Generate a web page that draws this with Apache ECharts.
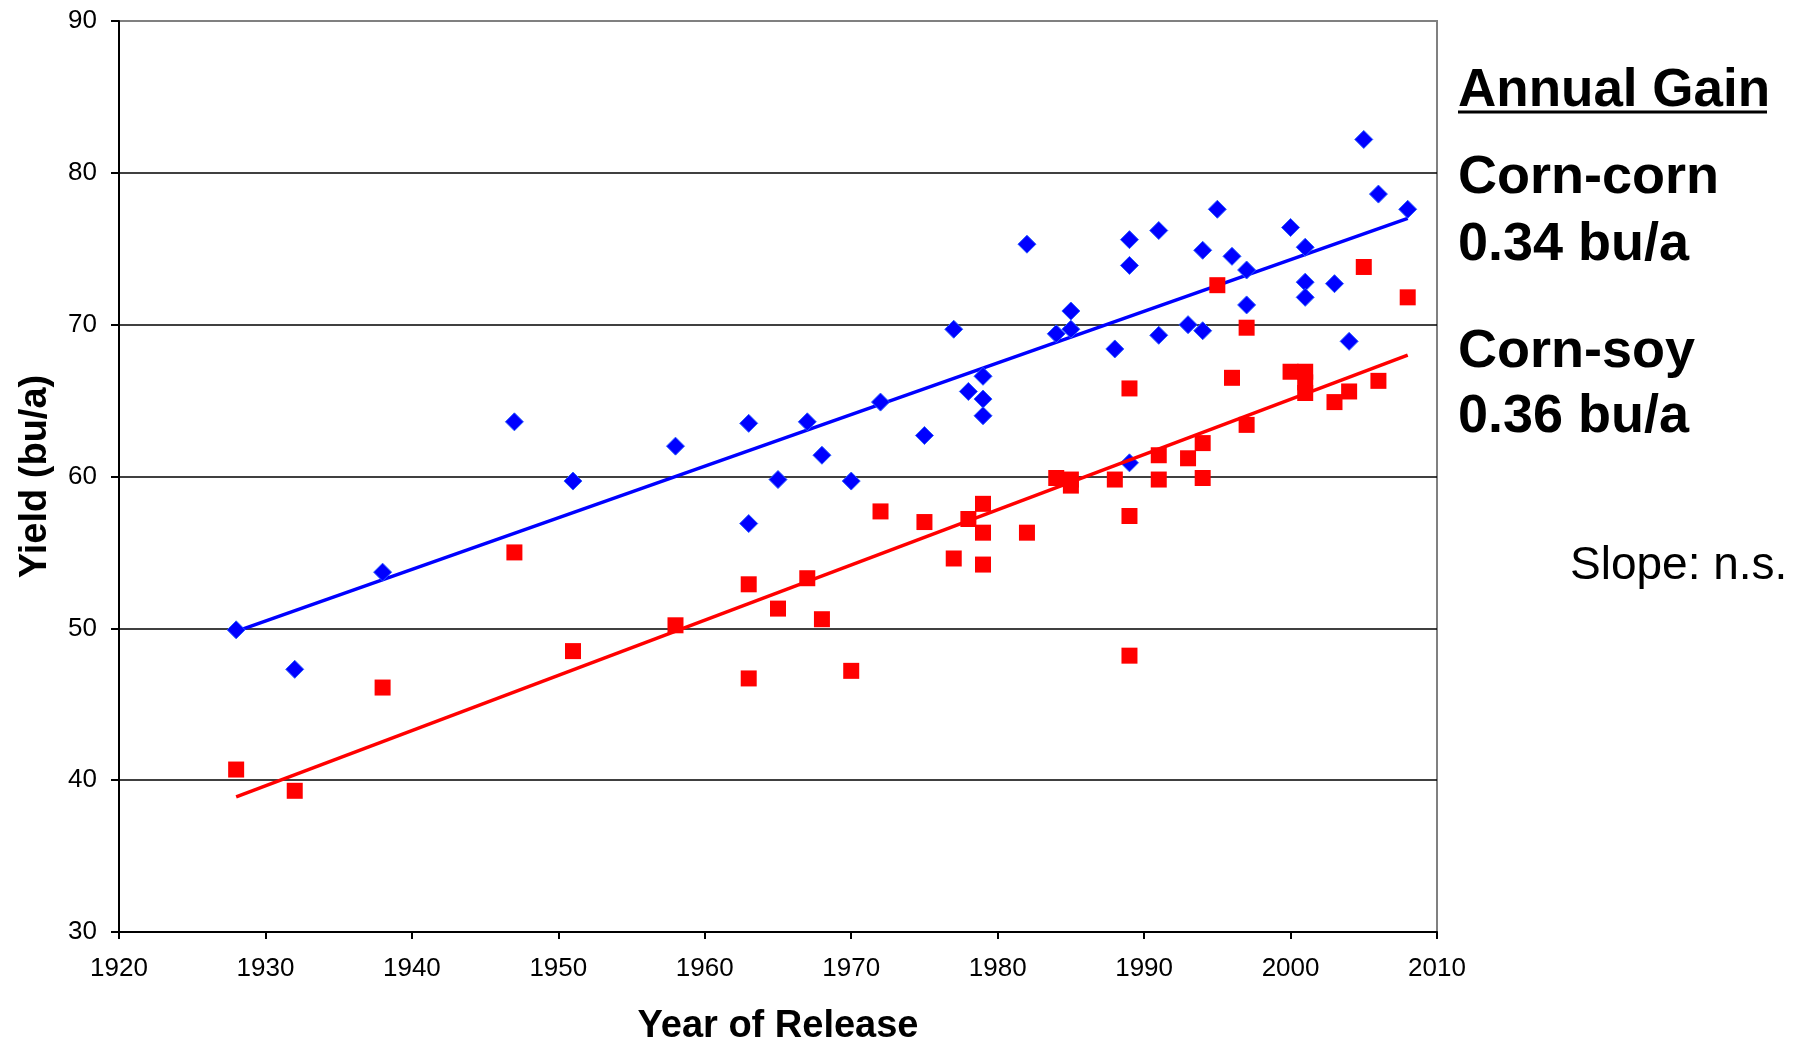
<!DOCTYPE html>
<html lang="en" style="height: 100%">

<head>
  <meta charset="utf-8">
  <style>
    html,body {
      margin: 0;
      padding: 0;
      width: 100%;
      height: 100%;
      overflow: hidden;
      background: #ffffff;
    }
  </style>
</head>

<body>
  <div id="container" style="height: 1040px;width: 1810px;"></div>

  <script type="text/javascript" src="https://cdn.jsdelivr.net/npm/echarts@6/dist/echarts.min.js"></script>
  <script type="text/javascript">
    // corn-corn (blue diamonds)
    let ccYears = [1928, 1932, 1938, 1947, 1951, 1958, 1963, 1963, 1965, 1967, 1968, 1970, 1972, 1975, 1977, 1978,
      1979, 1979, 1979, 1982, 1984, 1985, 1985, 1988, 1989, 1989, 1989, 1991, 1991, 1993, 1994, 1994, 1995, 1996,
      1997, 1997, 2000, 2001, 2001, 2001, 2003, 2004, 2005, 2006, 2008];
    let ccYield = [49.9, 47.3, 53.7, 63.6, 59.7, 62.0, 63.5, 56.9, 59.8, 63.6, 61.4, 59.7, 64.9, 62.7, 69.7, 65.6,
      66.6, 65.1, 64.0, 75.3, 69.4, 70.9, 69.7, 68.4, 75.6, 73.9, 60.9, 76.2, 69.3, 70.0, 74.9, 69.6, 77.6, 74.5,
      73.6, 71.3, 76.4, 75.1, 72.8, 71.8, 72.7, 68.9, 82.2, 78.6, 77.6];

    // corn-soy (red squares)
    let csYears = [1928, 1932, 1938, 1947, 1951, 1958, 1963, 1963, 1965, 1967, 1968, 1970, 1972, 1975, 1977, 1978,
      1979, 1979, 1979, 1982, 1984, 1985, 1985, 1988, 1989, 1989, 1989, 1991, 1991, 1993, 1994, 1994, 1995, 1996,
      1997, 1997, 2000, 2001, 2001, 2001, 2003, 2004, 2005, 2006, 2008];
    let csYield = [40.7, 39.3, 46.1, 55.0, 48.5, 50.2, 52.9, 46.7, 51.3, 53.3, 50.6, 47.2, 57.7, 57.0, 54.6, 57.2,
      58.2, 56.3, 54.2, 56.3, 59.9, 59.8, 59.4, 59.8, 65.8, 57.4, 48.2, 61.4, 59.8, 61.2, 62.2, 59.9, 72.6, 66.5,
      69.8, 63.4, 66.9, 66.9, 66.2, 65.5, 64.9, 65.6, 73.8, 66.3, 71.8];

    // fitted trend lines
    let trendYears = [1928, 2008];
    let ccTrend = [49.8, 77.0];
    let csTrend = [38.9, 68.0];

    let yTicks = [30, 40, 50, 60, 70, 80, 90];
    let xTicks = [1920, 1930, 1940, 1950, 1960, 1970, 1980, 1990, 2000, 2010];

    function pairs(xs, ys) {
      return xs.map(function (x, i) { return [x, ys[i]]; });
    }

    var dom = document.getElementById('container');
    var myChart = echarts.init(dom, null, {
      renderer: 'canvas'
    });

    var font = 'Liberation Sans, Arial, sans-serif';
    var narrow = 'Liberation Sans Narrow, Arial Narrow, Liberation Sans, sans-serif';
    var gridColors = yTicks.map(function (v, i) { return i === yTicks.length - 1 ? '#808080' : '#000000'; });

    var option = {
      backgroundColor: '#ffffff',
      animation: false,
      grid: {
        left: 119,
        right: 373,
        top: 21,
        bottom: 108,
        outerBoundsMode: 'none',
        containLabel: false,
        show: true,
        borderColor: '#808080',
        borderWidth: 2
      },
      xAxis: {
        type: 'value',
        min: xTicks[0],
        max: xTicks[xTicks.length - 1],
        interval: 10,
        name: 'Year of Release',
        nameLocation: 'middle',
        nameGap: 76,
        nameTextStyle: {
          fontFamily: font,
          fontSize: 38,
          fontWeight: 'bold',
          color: '#000000'
        },
        axisLine: { lineStyle: { color: '#000000', width: 2 } },
        axisTick: { show: true, length: 7, lineStyle: { color: '#000000', width: 2 } },
        axisLabel: {
          margin: 24,
          fontFamily: narrow,
          fontSize: 26,
          color: '#000000',
          formatter: function (v) { return String(v); }
        },
        splitLine: { show: false }
      },
      yAxis: {
        type: 'value',
        min: yTicks[0],
        max: yTicks[yTicks.length - 1],
        interval: 10,
        name: 'Yield (bu/a)',
        nameLocation: 'middle',
        nameGap: 64,
        nameTextStyle: {
          fontFamily: font,
          fontSize: 38,
          fontWeight: 'bold',
          color: '#000000'
        },
        axisLine: { show: true, lineStyle: { color: '#000000', width: 2 } },
        axisTick: { show: true, length: 8, lineStyle: { color: '#000000', width: 2 } },
        axisLabel: {
          margin: 22,
          fontFamily: narrow,
          fontSize: 26,
          color: '#000000'
        },
        splitLine: { show: true, lineStyle: { color: gridColors, width: 1.5 } }
      },
      series: [{
        name: 'Corn-corn trend',
        type: 'line',
        data: pairs(trendYears, ccTrend),
        showSymbol: false,
        lineStyle: { color: '#0000FF', width: 3.5 },
        z: 2
      }, {
        name: 'Corn-corn',
        type: 'scatter',
        data: pairs(ccYears, ccYield),
        symbol: 'diamond',
        symbolSize: 18,
        itemStyle: { color: '#0000FF', borderColor: '#2a5cff', borderWidth: 1, opacity: 1 },
        z: 3
      }, {
        name: 'Corn-soy trend',
        type: 'line',
        data: pairs(trendYears, csTrend),
        showSymbol: false,
        lineStyle: { color: '#FF0000', width: 3.5 },
        z: 4
      }, {
        name: 'Corn-soy',
        type: 'scatter',
        data: pairs(csYears, csYield),
        symbol: 'rect',
        symbolSize: 16,
        itemStyle: { color: '#FF0000', opacity: 1 },
        z: 5
      }],
      graphic: [{
        type: 'text', x: 1458, y: 91,
        style: { text: 'Annual Gain', font: 'bold 53px ' + font, fill: '#000000', textAlign: 'left', textVerticalAlign: 'middle' }
      }, {
        type: 'line',
        shape: { x1: 1458, y1: 112, x2: 1767, y2: 112 },
        style: { stroke: '#000000', lineWidth: 3 }
      }, {
        type: 'text', x: 1458, y: 178,
        style: { text: 'Corn-corn', font: 'bold 54px ' + font, fill: '#000000', textAlign: 'left', textVerticalAlign: 'middle' }
      }, {
        type: 'text', x: 1458, y: 245,
        style: { text: '0.34 bu/a', font: 'bold 54px ' + font, fill: '#000000', textAlign: 'left', textVerticalAlign: 'middle' }
      }, {
        type: 'text', x: 1458, y: 352,
        style: { text: 'Corn-soy', font: 'bold 54px ' + font, fill: '#000000', textAlign: 'left', textVerticalAlign: 'middle' }
      }, {
        type: 'text', x: 1458, y: 417,
        style: { text: '0.36 bu/a', font: 'bold 54px ' + font, fill: '#000000', textAlign: 'left', textVerticalAlign: 'middle' }
      }, {
        type: 'text', x: 1570, y: 566,
        style: { text: 'Slope: n.s.', font: '46px ' + font, fill: '#000000', textAlign: 'left', textVerticalAlign: 'middle' }
      }]
    };

    myChart.setOption(option);
  </script>
</body>

</html>
